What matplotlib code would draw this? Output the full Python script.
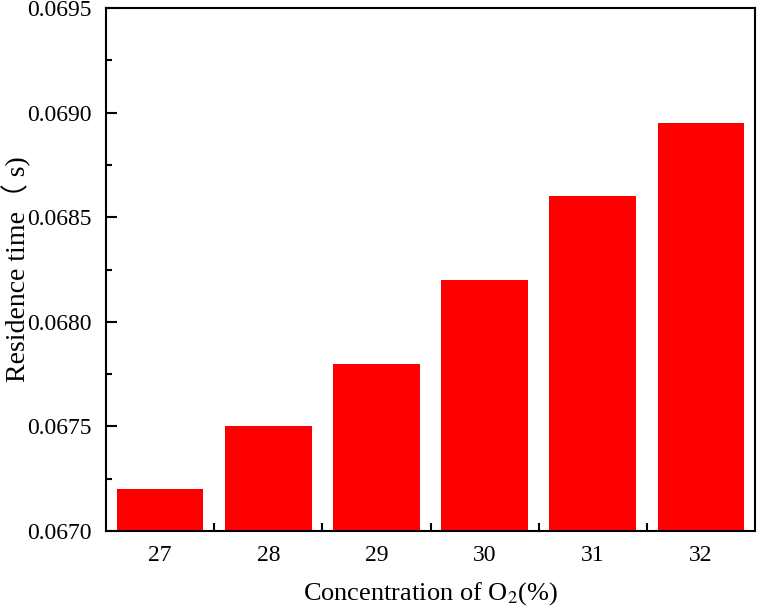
import matplotlib
matplotlib.use("Agg")
import matplotlib.pyplot as plt
import numpy as np
from matplotlib.ticker import MultipleLocator, FixedLocator

plt.rcParams['font.family'] = ['Liberation Serif', 'Noto Sans CJK SC']
plt.rcParams['mathtext.fontset'] = 'stix'

# data
o2_conc = ['27', '28', '29', '30', '31', '32']
res_time = [0.0672, 0.0675, 0.0678, 0.0682, 0.0686, 0.06895]

fig = plt.figure(figsize=(7.57, 6.09), dpi=100)
ax = fig.add_axes([106/757, 1-531/609, (755-106)/757, (531-8)/609])

x = np.arange(len(o2_conc))
ax.bar(x, res_time, width=0.8, color='#ff0000', edgecolor='none')

ax.set_xlim(-0.5, len(o2_conc) - 0.5)
ax.set_ylim(0.0670, 0.0695)
ax.set_xticks(x)
ax.set_xticklabels(o2_conc)
ax.xaxis.set_minor_locator(FixedLocator(x[:-1] + 0.5))
ax.yaxis.set_major_locator(MultipleLocator(0.0005))
ax.yaxis.set_minor_locator(MultipleLocator(0.00025))
ax.yaxis.set_major_formatter(matplotlib.ticker.FormatStrFormatter('%.4f'))

ax.tick_params(axis='x', which='major', length=0, pad=10, labelsize=17)
ax.tick_params(axis='x', which='minor', direction='in', length=6, width=1.5)
ax.tick_params(axis='y', which='major', direction='in', length=8, width=1.5, labelsize=17, pad=10)
ax.tick_params(axis='y', which='minor', direction='in', length=4, width=1.5)
for s in ax.spines.values():
    s.set_linewidth(1.5)

ax.set_xlabel('Concentration of O$_2$(%)', fontsize=19, labelpad=10)
ax.set_ylabel('Residence time（ s)', fontsize=20)
ax.yaxis.set_label_coords(-75/649, 0.5)

fig.savefig('out.png', dpi=100)
